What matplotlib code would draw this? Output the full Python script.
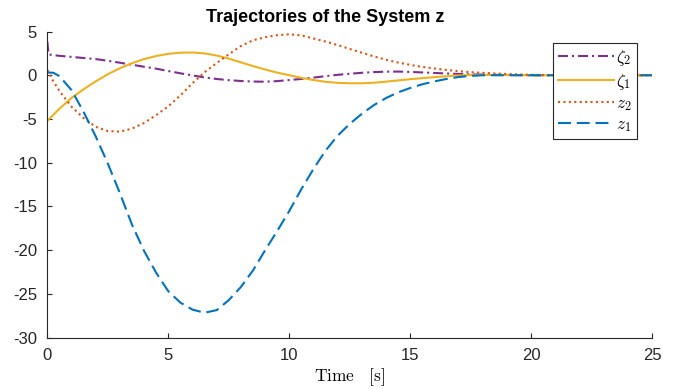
import matplotlib
matplotlib.use("Agg")
import matplotlib.pyplot as plt

plt.rcParams["mathtext.fontset"] = "cm"
plt.rcParams["font.family"] = ["Liberation Sans", "DejaVu Sans"]

# Time samples [s]
time = [0, 0.05, 0.25, 0.5, 1, 1.5, 2, 2.5, 3, 3.5, 4, 4.5, 5, 5.5, 6, 6.5,
        7, 7.5, 8, 8.5, 9, 9.5, 10, 10.5, 11, 11.5, 12, 12.5, 13, 13.5, 14,
        14.5, 15, 15.5, 16, 16.5, 17, 17.5, 18, 18.5, 19, 19.5, 20, 21, 22,
        23, 24, 25]

zeta2 = [3.85, 2.38, 2.3, 2.22, 2.1, 1.97, 1.85, 1.65, 1.43, 1.2, 0.97, 0.75,
         0.48, 0.22, -0.02, -0.25, -0.43, -0.56, -0.66, -0.72, -0.74, -0.67,
         -0.55, -0.42, -0.27, -0.1, 0.05, 0.17, 0.28, 0.36, 0.41, 0.42, 0.38,
         0.32, 0.26, 0.2, 0.15, 0.1, 0.07, 0.05, 0.03, 0.02, 0.0, 0, 0, 0, 0, 0]

zeta1 = [-5.22, -5.08, -4.52, -3.83, -2.6, -1.6, -0.7, 0.12, 0.8, 1.38, 1.85,
         2.2, 2.45, 2.58, 2.6, 2.5, 2.25, 1.9, 1.47, 1.05, 0.65, 0.3, 0.0,
         -0.3, -0.55, -0.75, -0.87, -0.92, -0.92, -0.85, -0.73, -0.59, -0.45,
         -0.33, -0.22, -0.11, -0.02, 0.03, 0.04, 0.03, 0.02, 0.01, 0.0, 0, 0,
         0, 0, 0]

z2 = [0.6, 0.35, -0.7, -1.8, -3.6, -4.9, -5.9, -6.38, -6.45, -6.1, -5.45,
      -4.55, -3.55, -2.3, -0.9, 0.35, 1.4, 2.4, 3.35, 4.0, 4.35, 4.58, 4.68,
      4.55, 4.2, 3.85, 3.45, 3.0, 2.57, 2.15, 1.77, 1.45, 1.18, 0.95, 0.77,
      0.6, 0.46, 0.35, 0.27, 0.2, 0.14, 0.09, 0.05, 0, 0, 0, 0, 0]

z1 = [0.3, 0.31, 0.28, -0.1, -1.7, -4.2, -7.0, -10.1, -13.5, -17.1, -20.1,
      -22.6, -24.7, -26.0, -26.8, -27.15, -26.85, -25.7, -24.2, -22.3, -20.0,
      -17.8, -15.5, -13.0, -10.7, -8.6, -6.9, -5.55, -4.4, -3.4, -2.6, -1.95,
      -1.45, -1.03, -0.7, -0.42, -0.2, -0.07, 0, 0, 0, 0, 0, 0, 0, 0, 0, 0]

series_labels = [r"$\zeta_2$", r"$\zeta_1$", r"$z_2$", r"$z_1$"]
x_ticks = [0, 5, 10, 15, 20, 25]
y_ticks = [-30, -25, -20, -15, -10, -5, 0, 5]

fig = plt.figure(figsize=(6.86, 3.89), dpi=100)
ax = fig.add_axes([0.069, 0.132, 0.882, 0.787])

lw = 1.5
ax.plot(time, zeta2, color="#7E2F8E", lw=lw, dashes=(4.8, 1.9, 1.0, 1.9),
        label=series_labels[0])
ax.plot(time, zeta1, color="#EDB120", lw=lw, label=series_labels[1])
ax.plot(time, z2, color="#D95319", lw=lw, dashes=(1.0, 1.6),
        label=series_labels[2])
ax.plot(time, z1, color="#0072BD", lw=lw, dashes=(6.2, 2.8),
        label=series_labels[3])

ax.set_xlim(0, 25)
ax.set_ylim(-30, 5)
ax.set_xticks(x_ticks)
ax.set_yticks(y_ticks)
ax.set_xticklabels([str(v) for v in x_ticks])
ax.set_yticklabels([str(v) for v in y_ticks])

for side in ("top", "right"):
    ax.spines[side].set_visible(False)
for side in ("left", "bottom"):
    ax.spines[side].set_color("#262626")
    ax.spines[side].set_linewidth(0.8)
ax.tick_params(direction="in", length=3.6, width=0.8, colors="#262626",
               labelsize=12, pad=7.5)
for lab in ax.get_xticklabels() + ax.get_yticklabels():
    lab.set_color("#262626")

ax.set_title("Trajectories of the System z", fontsize=13, fontweight="bold",
             x=0.46, pad=6.5)
ax.set_xlabel(r"$\mathrm{Time}\quad\mathrm{[s]}$", fontsize=12.5, labelpad=2)

leg = ax.legend(loc="upper right", bbox_to_anchor=(0.975, 0.962),
                fontsize=12.5, frameon=True, fancybox=False, framealpha=1,
                edgecolor="#262626", handlelength=3.2, handletextpad=0.15,
                borderpad=0.3, labelspacing=0.22, borderaxespad=0)
leg.get_frame().set_linewidth(0.8)

fig.savefig("out.png", dpi=100)
